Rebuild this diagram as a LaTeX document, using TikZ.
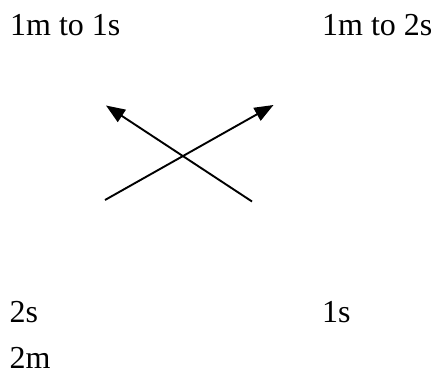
\documentclass[tikz,border=0pt]{standalone}
\usepackage{fontspec}
\setmainfont{Liberation Serif}
\usetikzlibrary{arrows.meta}
\begin{document}
\begin{tikzpicture}[x=1pt,y=-1pt,
  lbl/.style={anchor=base west,inner sep=0pt,font=\fontsize{32}{38}\selectfont},
  arr/.style={line width=1.9pt,-{Triangle[length=19pt,width=14.5pt]}}]
\useasboundingbox (0,0) rectangle (434,378);
\node[lbl] (a) at (10,35) {1m to 1s};
\node[lbl] (b) at (322,35) {1m to 2s};
\node[lbl] (c) at (9.5,322) {2s};
\node[lbl] (d) at (322,322) {1s};
\node[lbl] (e) at (9.5,368) {2m};
\coordinate (s1) at (105,200);
\coordinate (t1) at (273.5,105);
\coordinate (s2) at (252,201.5);
\coordinate (t2) at (106,105.5);
\draw[arr] (s1) -- (t1);
\draw[arr] (s2) -- (t2);
\end{tikzpicture}
\end{document}
